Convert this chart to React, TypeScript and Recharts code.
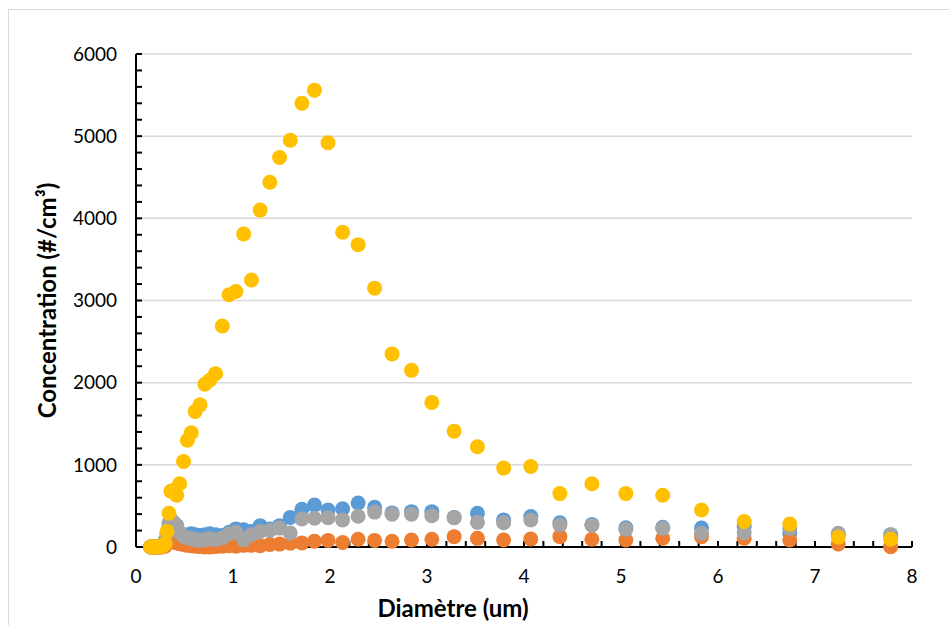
import React from "react";
import { ScatterChart, Scatter, XAxis, YAxis, ReferenceLine } from "recharts";

// diameters (um), shared by all four series
const diam = [
  0.15, 0.17, 0.19, 0.21, 0.23, 0.25, 0.27, 0.3, 0.32, 0.34, 0.36, 0.39, 0.42, 0.45, 0.49,
  0.53, 0.57, 0.61, 0.66, 0.71, 0.76, 0.82, 0.89, 0.96, 1.03, 1.11, 1.19, 1.28, 1.38,
  1.48, 1.59, 1.71, 1.84, 1.98, 2.13, 2.29, 2.46, 2.64, 2.84, 3.05, 3.28, 3.52, 3.79,
  4.07, 4.37, 4.7, 5.05, 5.43, 5.83, 6.27, 6.74, 7.24, 7.78,
];

const blue = [
  0, 0, 0, 0, 0, 5, 10, 60, 150, 250, 290, 260, 190, 150, 140,
  150, 160, 150, 140, 150, 160, 150, 140, 180, 220, 210, 190, 260, 220,
  260, 360, 460, 510, 450, 465, 535, 483, 415, 430, 430, 360, 410, 330,
  370, 296, 275, 235, 240, 230, 250, 170, 150, 150,
];

const orange = [
  0, 0, 0, 0, 0, 0, 0, 10, 40, 60, 70, 60, 50, 40, 30,
  20, 15, 10, 5, 0, 0, 5, 10, 15, 10, 20, 20, 15, 30,
  35, 45, 50, 70, 80, 55, 95, 80, 70, 85, 95, 126, 105, 85,
  97, 126, 94, 85, 106, 126, 106, 85, 37, 4,
];

const gray = [
  0, 0, 0, 0, 0, 5, 10, 80, 180, 290, 330, 300, 260, 180, 130,
  110, 100, 90, 80, 90, 100, 90, 110, 160, 180, 90, 150, 190, 200,
  230, 170, 340, 350, 357, 330, 375, 425, 398, 400, 380, 357, 300, 296,
  329, 268, 264, 215, 227, 167, 174, 227, 167, 146,
];

const yellow = [
  0, 0, 0, 0, 0, 5, 10, 40, 190, 410, 680, 690, 630, 770, 1040,
  1300, 1390, 1650, 1730, 1980, 2030, 2110, 2690, 3070, 3110, 3810, 3250, 4100, 4440,
  4740, 4950, 5400, 5560, 4920, 3830, 3680, 3150, 2350, 2150, 1760, 1410, 1220, 960,
  980, 650, 770, 650, 630, 450, 310, 280, 120, 95,
];

const xLabels = [0, 1, 2, 3, 4, 5, 6, 7, 8];
const yLabels = [0, 1000, 2000, 3000, 4000, 5000, 6000];

// minor ticks: every 0.2 on x, every 200 on y
const xTicks = Array.from({ length: 41 }, (_, i) => i / 5);
const yTicks = Array.from({ length: 31 }, (_, i) => i * 200);

const series = [
  { name: "S1", values: blue, color: "#5B9BD5" },
  { name: "S2", values: orange, color: "#ED7D31" },
  { name: "S3", values: gray, color: "#A5A5A5" },
  { name: "S4", values: yellow, color: "#FFC000" },
];

const font = "Lato, 'Open Sans', sans-serif";

export default function App() {
  return (
    <div style={{ position: "absolute", left: 0, top: 0, width: 949, height: 625, overflow: "hidden", background: "#fff" }}>
      <div
        style={{
          position: "absolute",
          left: 8,
          top: 9,
          width: 1100,
          height: 800,
          border: "1px solid #d9d9d9",
        }}
      />
      <div style={{ position: "absolute", left: 0, top: 0 }}>
        <ScatterChart
          width={949}
          height={625}
          margin={{ top: 54, right: 37, bottom: 18, left: 56 }}
          style={{ fontFamily: font }}
        >
          {yLabels.slice(1).map((v) => (
            <ReferenceLine key={v} y={v} stroke="#d9d9d9" strokeWidth={1.5} ifOverflow="extendDomain" />
          ))}
          <XAxis
            type="number"
            dataKey="x"
            domain={[0, 8]}
            ticks={xTicks}
            interval={0}
            height={60}
            tickSize={-6}
            tickMargin={29}
            tickFormatter={(v: number) => (xLabels.includes(v) ? String(v) : "")}
            tick={{ fill: "#000", fontSize: 19, fontFamily: font }}
            axisLine={{ stroke: "#000", strokeWidth: 2 }}
            tickLine={{ stroke: "#000", strokeWidth: 2 }}
            label={{
              value: "Diamètre (um)",
              position: "center",
              dx: -71,
              dy: 31,
              fill: "#000",
              fontSize: 24,
              fontWeight: 700,
              fontFamily: font,
            }}
          />
          <YAxis
            type="number"
            dataKey="y"
            domain={[0, 6000]}
            ticks={yTicks}
            interval={0}
            width={80}
            tickSize={-6}
            tickMargin={25}
            tickFormatter={(v: number) => (yLabels.includes(v) ? String(v) : "")}
            tick={{ fill: "#000", fontSize: 19, fontFamily: font }}
            axisLine={{ stroke: "#000", strokeWidth: 2 }}
            tickLine={{ stroke: "#000", strokeWidth: 2 }}
            label={{
              value: "Concentration (#/cm³)",
              angle: -90,
              position: "center",
              dx: -49,
              fill: "#000",
              fontSize: 24,
              fontWeight: 700,
              fontFamily: font,
            }}
          />
          {series.map((s) => (
            <Scatter
              key={s.name}
              name={s.name}
              data={diam.map((d, i) => ({ x: d, y: s.values[i] }))}
              fill={s.color}
              isAnimationActive={false}
              shape={(p: any) => <circle cx={p.cx} cy={p.cy} r={7.5} fill={s.color} />}
            />
          ))}
        </ScatterChart>
      </div>
    </div>
  );
}
